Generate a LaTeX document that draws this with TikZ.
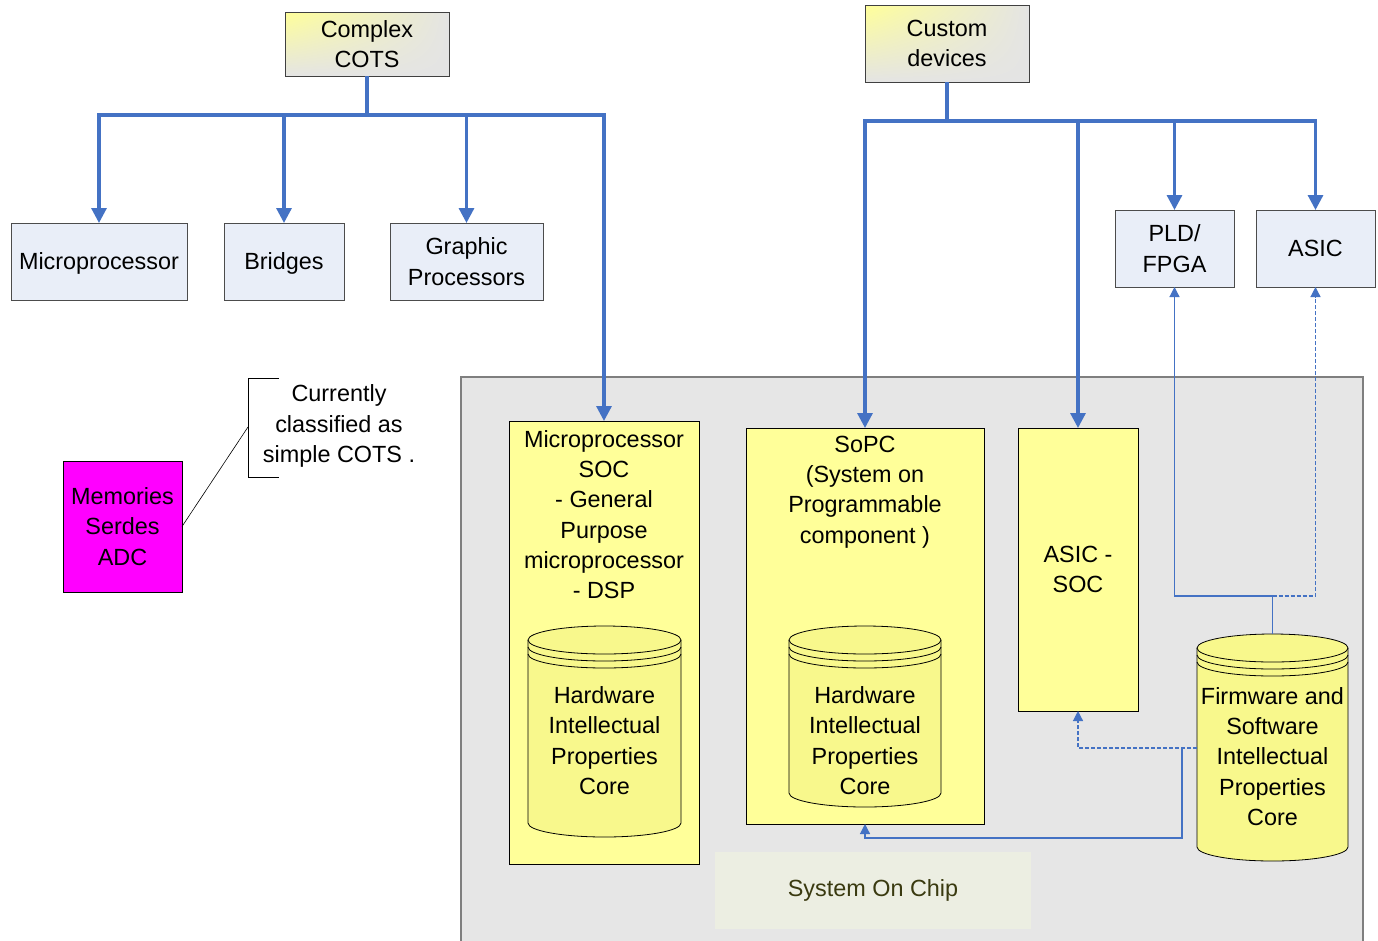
\documentclass[tikz,border=0pt]{standalone}
\usepackage{fontspec}
\setmainfont{Liberation Sans}
\usetikzlibrary{arrows.meta,shadings}
\definecolor{lineblue}{HTML}{4472C4}
\definecolor{boxblue}{HTML}{E9EEF8}
\definecolor{socyellow}{HTML}{FFFF99}
\definecolor{cylyellow}{HTML}{F8F88C}
\definecolor{socgray}{HTML}{E6E6E6}
\definecolor{socborder}{HTML}{7F7F7F}
\definecolor{chipbg}{HTML}{ECEEE2}
\definecolor{chiptext}{HTML}{3A3A10}
\definecolor{topyellow}{HTML}{FFFF99}
\definecolor{topgray}{HTML}{E4E4E4}
\definecolor{memmagenta}{RGB}{255,0,255}
\newcommand\mycyl[5]{% cx, rx, ytop, ybot, ry
  \fill[cylyellow] (#1-#2,#3) -- (#1-#2,#4) arc[start angle=180,end angle=0,x radius=#2,y radius=#5]
    -- (#1+#2,#3) arc[start angle=0,end angle=-180,x radius=#2,y radius=#5] -- cycle;
  \draw[cylline] (#1-#2,#3) -- (#1-#2,#4) arc[start angle=180,end angle=0,x radius=#2,y radius=#5]
    -- (#1+#2,#3) arc[start angle=0,end angle=-180,x radius=#2,y radius=#5];
  \draw[cylline] (#1-#2,#3) arc[start angle=180,end angle=0,x radius=#2,y radius=#5];
  \draw[cylline] (#1-#2,#3+7) arc[start angle=180,end angle=0,x radius=#2,y radius=#5];
  \draw[cylline] (#1-#2,#3+14) arc[start angle=180,end angle=0,x radius=#2,y radius=#5];
}
\begin{document}
\begin{tikzpicture}[x=1pt,y=-1pt,
  font=\fontsize{23.4}{30.3}\selectfont,
  every node/.style={inner sep=0pt,outer sep=0pt,align=center},
  topbox/.style={draw=black!75,line width=0.9pt,upper left=topyellow,upper right=topgray,lower left=topgray,lower right=topgray},
  bluebox/.style={draw=black!70,line width=0.9pt,fill=boxblue},
  socbox/.style={draw=black,line width=1pt,fill=socyellow},
  thickline/.style={draw=lineblue,line width=3.2pt},
  thickarrow/.style={thickline,-{Triangle[length=15pt,width=15pt]}},
  thinline/.style={draw=lineblue,line width=1.2pt},
  thinarrow/.style={thinline,-{Triangle[length=10pt,width=10pt]}},
  dashline/.style={dash pattern=on 4pt off 2pt},
  cylline/.style={draw=black,line width=0.8pt},
]
\useasboundingbox (0,0) rectangle (1378,940);
\fill[white] (0,0) rectangle (1378,940);

% System on chip background
\draw[fill=socgray,draw=socborder,line width=1.2pt] (461,377) rectangle (1363,960);
\node[fill=chipbg,minimum width=316pt,minimum height=77pt,text=chiptext] (chip) at (873,890.5) {System On Chip};

% top boxes
\node[topbox,minimum width=164pt,minimum height=64pt] (cots) at (367,44) {Complex\\COTS};
\node[topbox,minimum width=164pt,minimum height=77pt] (custom) at (947,43.5) {Custom\\devices};

\node[bluebox,minimum width=176pt,minimum height=77pt,text depth=0pt] (mp) at (99,261.5) {Microprocessor};
\node[bluebox,minimum width=120pt,minimum height=77pt,text depth=0pt] (br) at (284,261.5) {Bridges};
\node[bluebox,minimum width=153pt,minimum height=77pt] (gp) at (466.5,261.5) {Graphic\\Processors};
\node[bluebox,minimum width=119pt,minimum height=77pt] (pld) at (1174.5,248.5) {PLD/\\FPGA};
\node[bluebox,minimum width=119pt,minimum height=77pt] (asic) at (1315.5,248.5) {ASIC};

% SOC boxes
\node[socbox,minimum width=190pt,minimum height=443pt] (msoc) at (604,642.5) {};
\node at (604,514.5) {Microprocessor\\SOC\\- General\\Purpose\\microprocessor\\- DSP};
\node[socbox,minimum width=238pt,minimum height=396pt] (sopc) at (865,626) {};
\node at (865,492) {SoPC\\(System on\\Programmable\\component )};
\node[socbox,minimum width=120pt,minimum height=283pt] (asoc) at (1078,569.5) {ASIC -\\SOC};

% cylinders
\mycyl{604.5}{76.5}{640}{823}{14}
\node (hw1) at (604.5,740.5) {Hardware\\Intellectual\\Properties\\Core};
\mycyl{865}{76}{640}{793}{14}
\node (hw2) at (865,740.5) {Hardware\\Intellectual\\Properties\\Core};
\mycyl{1272.5}{75.5}{648}{847}{14}
\node (fw) at (1272.5,756.5) {Firmware and\\Software\\Intellectual\\Properties\\Core};
\coordinate (fwtop) at (1272.5,634);
\coordinate (fwleft) at (1197,748);

% memories and callout
\node[draw=black,line width=0.9pt,fill=memmagenta,minimum width=119pt,minimum height=131pt] (mem) at (122.5,526.5) {Memories\\Serdes\\ADC};
\node (call) at (339,426) {Currently\\classified as\\simple COTS .};
\draw[black,line width=0.8pt] (279,378) -- (248,378) -- (248,477) -- (279,477);
\coordinate (brk) at (248,427);
\draw[black,line width=0.6pt] (mem.east) -- (brk);

% thick connectors
\coordinate (c1) at (367,115);
\draw[thickline] (cots.south) -- (c1);
\draw[thickline,line cap=rect] (99,115) -- (604,115);
\draw[thickarrow] (99,115) -- (mp.north);
\draw[thickarrow] (284,115) -- (br.north);
\draw[thickarrow] (466.5,115) -- (gp.north);
\draw[thickarrow] (604,115) -- (msoc.north);

\coordinate (c2) at (947,121);
\draw[thickline] (custom.south) -- (c2);
\draw[thickline,line cap=rect] (865,121) -- (1315.5,121);
\draw[thickarrow] (865,121) -- (sopc.north);
\draw[thickarrow] (1078,121) -- (asoc.north);
\draw[thickarrow] (1174.5,121) -- (pld.north);
\draw[thickarrow] (1315.5,121) -- (asic.north);

% thin connectors
\coordinate (j1) at (1272.5,596);
\draw[thinline] (fwtop) -- (j1);
\draw[thinarrow] (j1) -- (1174.5,596) -- (pld.south);
\draw[thinarrow,dashline] (j1) -- (1315.5,596) -- (asic.south);
\draw[thinarrow,dashline] (fwleft) -- (1078,748) -- (asoc.south);
\coordinate (j2) at (1182,748);
\draw[thinarrow] (j2) -- (1182,838) -- (865,838) -- (sopc.south);
\end{tikzpicture}
\end{document}
